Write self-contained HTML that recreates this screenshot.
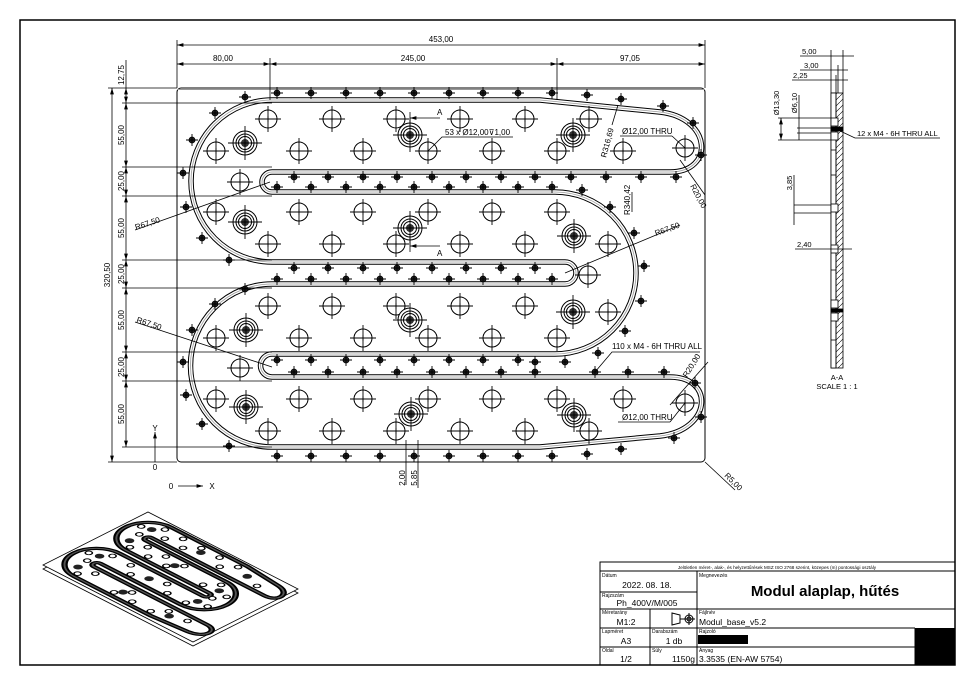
<!DOCTYPE html>
<html><head><meta charset="utf-8"><style>
html,body{margin:0;padding:0;background:#fff}
svg{display:block}
text{font-family:"Liberation Sans",sans-serif;fill:#000}
</style></head><body>
<svg width="975" height="686" viewBox="0 0 975 686" xmlns="http://www.w3.org/2000/svg">
<defs>
<symbol id="h" overflow="visible"><circle r="9" fill="#fff" stroke="#000" stroke-width="1"/><path d="M-13 0H13M0-13V13" stroke="#000" stroke-width="0.9"/><path d="M-3 0H3M0-3V3" stroke="#000" stroke-width="0.8"/></symbol>
<symbol id="cb" overflow="visible"><circle r="12" fill="#fff" stroke="#000" stroke-width="1"/><circle r="9" fill="none" stroke="#000" stroke-width="1"/><circle r="6.5" fill="none" stroke="#000" stroke-width="1"/><circle r="4" fill="#333"/><path d="M-17 0H17M0-17V17" stroke="#000" stroke-width="0.9"/></symbol>
<symbol id="m" overflow="visible"><circle r="3" fill="#222" stroke="#000" stroke-width="0.8"/><path d="M-6 0H6M0-6V6" stroke="#000" stroke-width="0.9"/></symbol>
<path id="gp" d="M272,100 L540,100 L660,112 C712,118 715,172 670,172 L272,172 A10 10 0 0 0 272,192 L555,192 A81 81 0 0 1 555,354 L272,354 A11.5 11.5 0 0 0 272,377 L670,377 C715,377 712,430 660,436 L540,447 L272,447 A81.5 81.5 0 0 1 272,284 L565,284 A11 11 0 0 0 565,262 L272,262 A81 81 0 0 1 272,100 Z"/>
<marker id="ar" viewBox="0 0 10 6" refX="10" refY="3" markerWidth="8" markerHeight="5" orient="auto-start-reverse"><path d="M0 0L10 3L0 6Z" fill="#000"/></marker>
<pattern id="hatch" width="6" height="6" patternUnits="userSpaceOnUse"><path d="M0 6L6 0" stroke="#000" stroke-width="0.6"/></pattern>
</defs>

<rect x="20" y="20" width="935" height="645" fill="none" stroke="#000" stroke-width="1.5"/>

<rect x="177" y="88" width="528" height="374" rx="4" fill="#fff" stroke="#000" stroke-width="1"/>
<line x1="177" y1="89.5" x2="705" y2="89.5" stroke="#999" stroke-width="1"/>

<use href="#gp" fill="none" stroke="#000" stroke-width="5.5"/>
<use href="#gp" fill="none" stroke="#fff" stroke-width="3.5"/>
<use href="#gp" fill="none" stroke="#999" stroke-width="0.8"/>

<g>
<use href="#h" x="268" y="119"/><use href="#h" x="332" y="119"/><use href="#h" x="396" y="119"/><use href="#h" x="460" y="119"/><use href="#h" x="525" y="119"/><use href="#h" x="589" y="119"/>
<use href="#h" x="216" y="151"/><use href="#h" x="299" y="151"/><use href="#h" x="363" y="151"/><use href="#h" x="428" y="151"/><use href="#h" x="492" y="151"/><use href="#h" x="557" y="151"/><use href="#h" x="623" y="151"/>
<use href="#h" x="240" y="182"/>
<use href="#h" x="216" y="212"/><use href="#h" x="299" y="212"/><use href="#h" x="363" y="212"/><use href="#h" x="428" y="212"/><use href="#h" x="492" y="212"/><use href="#h" x="557" y="212"/>
<use href="#h" x="268" y="244"/><use href="#h" x="332" y="244"/><use href="#h" x="396" y="244"/><use href="#h" x="460" y="244"/><use href="#h" x="525" y="244"/><use href="#h" x="608" y="244"/>
<use href="#h" x="588" y="275"/>
<use href="#h" x="268" y="306"/><use href="#h" x="332" y="306"/><use href="#h" x="396" y="306"/><use href="#h" x="460" y="306"/><use href="#h" x="525" y="306"/><use href="#h" x="608" y="312"/>
<use href="#h" x="216" y="338"/><use href="#h" x="299" y="338"/><use href="#h" x="363" y="338"/><use href="#h" x="428" y="338"/><use href="#h" x="492" y="338"/><use href="#h" x="557" y="338"/>
<use href="#h" x="240" y="368"/>
<use href="#h" x="216" y="399"/><use href="#h" x="299" y="399"/><use href="#h" x="363" y="399"/><use href="#h" x="428" y="399"/><use href="#h" x="492" y="399"/><use href="#h" x="557" y="399"/><use href="#h" x="623" y="399"/>
<use href="#h" x="268" y="431"/><use href="#h" x="332" y="431"/><use href="#h" x="396" y="431"/><use href="#h" x="460" y="431"/><use href="#h" x="525" y="431"/><use href="#h" x="589" y="431"/>
<use href="#cb" x="245" y="143"/><use href="#cb" x="410" y="135"/><use href="#cb" x="573" y="135"/>
<use href="#cb" x="245" y="222"/><use href="#cb" x="410" y="228"/><use href="#cb" x="574" y="236"/>
<use href="#cb" x="246" y="330"/><use href="#cb" x="410" y="320"/><use href="#cb" x="573" y="312"/>
<use href="#cb" x="246" y="407"/><use href="#cb" x="411" y="414"/><use href="#cb" x="574" y="415"/>
<use href="#h" x="685" y="148"/><use href="#h" x="685" y="403"/>
</g>

<g>
<use href="#m" x="277" y="93"/><use href="#m" x="311" y="93"/><use href="#m" x="346" y="93"/><use href="#m" x="380" y="93"/><use href="#m" x="414" y="93"/><use href="#m" x="449" y="93"/><use href="#m" x="483" y="93"/><use href="#m" x="518" y="93"/><use href="#m" x="552" y="93"/><use href="#m" x="587" y="95"/><use href="#m" x="621" y="99"/><use href="#m" x="663" y="106"/>
<use href="#m" x="294" y="177"/><use href="#m" x="328" y="177"/><use href="#m" x="363" y="177"/><use href="#m" x="397" y="177"/><use href="#m" x="432" y="177"/><use href="#m" x="466" y="177"/><use href="#m" x="501" y="177"/><use href="#m" x="535" y="177"/><use href="#m" x="571" y="177"/><use href="#m" x="606" y="177"/><use href="#m" x="641" y="177"/><use href="#m" x="676" y="177"/>
<use href="#m" x="277" y="187"/><use href="#m" x="311" y="187"/><use href="#m" x="346" y="187"/><use href="#m" x="380" y="187"/><use href="#m" x="414" y="187"/><use href="#m" x="449" y="187"/><use href="#m" x="483" y="187"/><use href="#m" x="518" y="187"/><use href="#m" x="552" y="187"/>
<use href="#m" x="294" y="268"/><use href="#m" x="328" y="268"/><use href="#m" x="363" y="268"/><use href="#m" x="397" y="268"/><use href="#m" x="432" y="268"/><use href="#m" x="466" y="268"/><use href="#m" x="501" y="268"/><use href="#m" x="535" y="268"/>
<use href="#m" x="277" y="279"/><use href="#m" x="311" y="279"/><use href="#m" x="346" y="279"/><use href="#m" x="380" y="279"/><use href="#m" x="414" y="279"/><use href="#m" x="449" y="279"/><use href="#m" x="483" y="279"/><use href="#m" x="518" y="279"/><use href="#m" x="552" y="279"/>
<use href="#m" x="277" y="360"/><use href="#m" x="311" y="360"/><use href="#m" x="346" y="360"/><use href="#m" x="380" y="360"/><use href="#m" x="414" y="360"/><use href="#m" x="449" y="360"/><use href="#m" x="483" y="360"/><use href="#m" x="518" y="360"/><use href="#m" x="535" y="362"/><use href="#m" x="565" y="362"/>
<use href="#m" x="294" y="372"/><use href="#m" x="328" y="372"/><use href="#m" x="363" y="372"/><use href="#m" x="397" y="372"/><use href="#m" x="432" y="372"/><use href="#m" x="466" y="372"/><use href="#m" x="501" y="372"/><use href="#m" x="535" y="372"/><use href="#m" x="595" y="372"/><use href="#m" x="628" y="372"/><use href="#m" x="664" y="372"/>
<use href="#m" x="277" y="456"/><use href="#m" x="311" y="456"/><use href="#m" x="346" y="456"/><use href="#m" x="380" y="456"/><use href="#m" x="414" y="456"/><use href="#m" x="449" y="456"/><use href="#m" x="483" y="456"/><use href="#m" x="518" y="456"/><use href="#m" x="552" y="456"/><use href="#m" x="587" y="454"/><use href="#m" x="621" y="449"/><use href="#m" x="674" y="438"/>
<use href="#m" x="245" y="97"/><use href="#m" x="215" y="113"/><use href="#m" x="192" y="140"/><use href="#m" x="183" y="173"/><use href="#m" x="186" y="207"/><use href="#m" x="202" y="238"/><use href="#m" x="229" y="260"/>
<use href="#m" x="245" y="289"/><use href="#m" x="215" y="304"/><use href="#m" x="192" y="330"/><use href="#m" x="183" y="362"/><use href="#m" x="186" y="395"/><use href="#m" x="202" y="424"/><use href="#m" x="229" y="446"/>
<use href="#m" x="582" y="190"/><use href="#m" x="610" y="207"/><use href="#m" x="634" y="233"/><use href="#m" x="644" y="266"/><use href="#m" x="641" y="301"/><use href="#m" x="625" y="331"/><use href="#m" x="598" y="353"/>
<use href="#m" x="693" y="123"/><use href="#m" x="701" y="155"/><use href="#m" x="695" y="383"/><use href="#m" x="701" y="417"/>
</g>

<g stroke="#000" stroke-width="0.8" fill="none">
<line x1="177" y1="40" x2="177" y2="88"/><line x1="705" y1="40" x2="705" y2="88"/>
<line x1="177" y1="45" x2="705" y2="45" marker-start="url(#ar)" marker-end="url(#ar)"/>
<line x1="270" y1="58" x2="270" y2="100"/><line x1="557" y1="58" x2="557" y2="100"/>
<line x1="177" y1="64" x2="270" y2="64" marker-start="url(#ar)" marker-end="url(#ar)"/>
<line x1="270" y1="64" x2="557" y2="64" marker-start="url(#ar)" marker-end="url(#ar)"/>
<line x1="557" y1="64" x2="705" y2="64" marker-start="url(#ar)" marker-end="url(#ar)"/>
<line x1="108" y1="88" x2="177" y2="88"/><line x1="108" y1="462" x2="177" y2="462"/>
<line x1="112" y1="88" x2="112" y2="462" marker-start="url(#ar)" marker-end="url(#ar)"/>
<line x1="122" y1="103" x2="272" y2="103"/>
<line x1="126" y1="60" x2="126" y2="88"/>
<line x1="126" y1="88" x2="126" y2="103" marker-start="url(#ar)" marker-end="url(#ar)"/>
<line x1="122" y1="167" x2="272" y2="167"/><line x1="122" y1="196" x2="272" y2="196"/>
<line x1="122" y1="260" x2="272" y2="260"/><line x1="122" y1="288" x2="272" y2="288"/>
<line x1="122" y1="352" x2="272" y2="352"/><line x1="122" y1="381" x2="272" y2="381"/>
<line x1="122" y1="447" x2="272" y2="447"/>
<line x1="126" y1="103" x2="126" y2="167" marker-start="url(#ar)" marker-end="url(#ar)"/>
<line x1="126" y1="167" x2="126" y2="196" marker-start="url(#ar)" marker-end="url(#ar)"/>
<line x1="126" y1="196" x2="126" y2="260" marker-start="url(#ar)" marker-end="url(#ar)"/>
<line x1="126" y1="260" x2="126" y2="288" marker-start="url(#ar)" marker-end="url(#ar)"/>
<line x1="126" y1="288" x2="126" y2="352" marker-start="url(#ar)" marker-end="url(#ar)"/>
<line x1="126" y1="352" x2="126" y2="381" marker-start="url(#ar)" marker-end="url(#ar)"/>
<line x1="126" y1="381" x2="126" y2="447" marker-start="url(#ar)" marker-end="url(#ar)"/>
<line x1="406" y1="440" x2="406" y2="485"/><line x1="418" y1="440" x2="418" y2="488"/>
<line x1="155" y1="462" x2="155" y2="432" marker-end="url(#ar)"/>
<line x1="178" y1="486" x2="203" y2="486" marker-end="url(#ar)"/>
<line x1="410" y1="112" x2="410" y2="128"/><line x1="410" y1="236" x2="410" y2="252"/>
<line x1="440" y1="118" x2="410" y2="118" marker-end="url(#ar)"/>
<line x1="440" y1="246" x2="410" y2="246" marker-end="url(#ar)"/>
<path d="M428 151 L442 137 L513 137"/>
<path d="M672 136 L620 136"/><path d="M685 148 L672 136"/>
<path d="M612 125 L618 105"/>
<path d="M632 212 L632 192"/>
<path d="M680 160 L705 195"/>
<path d="M135 230 L270 182"/>
<path d="M680 225 L565 273"/>
<path d="M135 322 L272 367"/>
<path d="M700 352 L612 352 L595 372"/>
<path d="M708 362 L670 405"/>
<path d="M670 422 L618 422"/><path d="M670 422 L685 403"/>
<path d="M705 462 L735 490"/>
</g>
<g font-size="8">
<text x="441" y="42" text-anchor="middle">453,00</text>
<text x="223" y="61" text-anchor="middle">80,00</text>
<text x="413" y="61" text-anchor="middle">245,00</text>
<text x="630" y="61" text-anchor="middle">97,05</text>
<text transform="translate(124,75) rotate(-90)" text-anchor="middle">12,75</text>
<text transform="translate(110,275) rotate(-90)" text-anchor="middle">320,50</text>
<text transform="translate(124,135) rotate(-90)" text-anchor="middle">55,00</text>
<text transform="translate(124,181) rotate(-90)" text-anchor="middle">25,00</text>
<text transform="translate(124,228) rotate(-90)" text-anchor="middle">55,00</text>
<text transform="translate(124,274) rotate(-90)" text-anchor="middle">25,00</text>
<text transform="translate(124,320) rotate(-90)" text-anchor="middle">55,00</text>
<text transform="translate(124,367) rotate(-90)" text-anchor="middle">25,00</text>
<text transform="translate(124,414) rotate(-90)" text-anchor="middle">55,00</text>
<text transform="translate(405,478) rotate(-90)" text-anchor="middle">2,00</text>
<text transform="translate(417,478) rotate(-90)" text-anchor="middle">5,85</text>
<text x="155" y="431" text-anchor="middle">Y</text>
<text x="155" y="470" text-anchor="middle">0</text>
<text x="171" y="489" text-anchor="middle">0</text>
<text x="212" y="489" text-anchor="middle">X</text>
<text x="437" y="115">A</text><text x="437" y="256">A</text>
<text x="445" y="135">53 x Ø12,00⊽1,00</text>
<text x="622" y="134">Ø12,00 THRU</text>
<text transform="translate(606,158) rotate(-75)">R316,69</text>
<text transform="translate(630,215) rotate(-90)">R340,42</text>
<text transform="translate(690,186) rotate(62)">R20,00</text>
<text transform="translate(136,230) rotate(-18)">R67,50</text>
<text transform="translate(656,236) rotate(-20)">R67,50</text>
<text transform="translate(136,322) rotate(18)">R67,50</text>
<text x="612" y="349">110 x M4 - 6H THRU ALL</text>
<text transform="translate(687,378) rotate(-58)">R20,00</text>
<text x="622" y="420">Ø12,00 THRU</text>
<text transform="translate(724,476) rotate(45)">R5,00</text>
</g>

<g stroke="#000" stroke-width="0.8" fill="none">
<rect x="831" y="93" width="12" height="275" fill="url(#hatch)"/>
<rect x="831" y="93" width="5" height="275" fill="#fff"/>
<line x1="836" y1="93" x2="836" y2="368"/>
<rect x="831" y="118" width="7" height="8" fill="#fff"/>
<rect x="831" y="127" width="12" height="4" fill="#000"/>
<rect x="831" y="132" width="7" height="8" fill="#fff"/>
<rect x="831" y="204" width="7" height="8" fill="#fff"/>
<rect x="831" y="245" width="7" height="8" fill="#fff"/>
<rect x="831" y="300" width="7" height="8" fill="#fff"/>
<rect x="831" y="309" width="12" height="3" fill="#000"/>
<rect x="831" y="313" width="7" height="8" fill="#fff"/>
<line x1="831" y1="150" x2="836" y2="150"/><line x1="831" y1="175" x2="836" y2="175"/><line x1="831" y1="270" x2="836" y2="270"/><line x1="831" y1="340" x2="836" y2="340"/>
<line x1="831" y1="50" x2="831" y2="93"/><line x1="843" y1="50" x2="843" y2="93"/><line x1="838" y1="65" x2="838" y2="93"/><line x1="836" y1="75" x2="836" y2="93"/>
<line x1="800" y1="56" x2="854" y2="56"/><line x1="800" y1="70" x2="848" y2="70"/><line x1="792" y1="80" x2="848" y2="80"/>
<line x1="778" y1="118" x2="831" y2="118"/><line x1="778" y1="140" x2="831" y2="140"/>
<line x1="781" y1="118" x2="781" y2="140" marker-start="url(#ar)" marker-end="url(#ar)"/>
<line x1="797" y1="128" x2="831" y2="128"/><line x1="797" y1="133" x2="831" y2="133"/>
<line x1="799" y1="95" x2="799" y2="140"/>
<line x1="794" y1="205" x2="831" y2="205"/><line x1="794" y1="213" x2="831" y2="213"/>
<line x1="794" y1="175" x2="794" y2="225"/>
<line x1="795" y1="249" x2="852" y2="249"/>
<path d="M838 130 L855 138 L940 138"/>
</g>
<g font-size="7.5">
<text x="802" y="54">5,00</text>
<text x="804" y="68">3,00</text>
<text x="793" y="78">2,25</text>
<text transform="translate(779,103) rotate(-90)" text-anchor="middle">Ø13,30</text>
<text transform="translate(797,103) rotate(-90)" text-anchor="middle">Ø6,10</text>
<text transform="translate(792,183) rotate(-90)" text-anchor="middle">3,85</text>
<text x="797" y="247">2,40</text>
<text x="857" y="136">12 x M4 - 6H THRU ALL</text>
<text x="837" y="380" text-anchor="middle">A-A</text>
<text x="837" y="389" text-anchor="middle">SCALE 1 : 1</text>
</g>

<polygon points="43,569 193,646 298,593 148,516" fill="#fff" stroke="#000" stroke-width="0.8"/>
<polygon points="43,565 193,642 298,589 148,512" fill="#fff" stroke="#000" stroke-width="0.8"/>
<g transform="matrix(0.2846 0.1461 -0.28 0.1413 121.98 473.58)">
<use href="#gp" fill="none" stroke="#000" stroke-width="16"/>
<use href="#gp" fill="none" stroke="#555" stroke-width="5"/>
<g fill="#fff" stroke="#000" stroke-width="4">
<circle cx="268" cy="119" r="9"/><circle cx="332" cy="119" r="9"/><circle cx="396" cy="119" r="9"/><circle cx="460" cy="119" r="9"/><circle cx="525" cy="119" r="9"/>
<circle cx="216" cy="151" r="9"/><circle cx="299" cy="151" r="9"/><circle cx="363" cy="151" r="9"/><circle cx="492" cy="151" r="9"/><circle cx="623" cy="151" r="9"/>
<circle cx="240" cy="182" r="9"/>
<circle cx="299" cy="212" r="9"/><circle cx="363" cy="212" r="9"/><circle cx="428" cy="212" r="9"/><circle cx="557" cy="212" r="9"/>
<circle cx="268" cy="244" r="9"/><circle cx="332" cy="244" r="9"/><circle cx="396" cy="244" r="9"/><circle cx="525" cy="244" r="9"/><circle cx="608" cy="244" r="9"/>
<circle cx="588" cy="275" r="9"/>
<circle cx="268" cy="306" r="9"/><circle cx="332" cy="306" r="9"/><circle cx="460" cy="306" r="9"/><circle cx="608" cy="312" r="9"/>
<circle cx="216" cy="338" r="9"/><circle cx="363" cy="338" r="9"/><circle cx="492" cy="338" r="9"/><circle cx="557" cy="338" r="9"/>
<circle cx="240" cy="368" r="9"/>
<circle cx="299" cy="399" r="9"/><circle cx="428" cy="399" r="9"/><circle cx="557" cy="399" r="9"/><circle cx="623" cy="399" r="9"/>
<circle cx="268" cy="431" r="9"/><circle cx="396" cy="431" r="9"/><circle cx="460" cy="431" r="9"/><circle cx="525" cy="431" r="9"/>
</g>
<g fill="#222">
<circle cx="245" cy="143" r="12"/><circle cx="410" cy="135" r="12"/><circle cx="573" cy="135" r="12"/>
<circle cx="245" cy="222" r="12"/><circle cx="410" cy="228" r="12"/><circle cx="574" cy="236" r="12"/>
<circle cx="246" cy="330" r="12"/><circle cx="410" cy="320" r="12"/><circle cx="573" cy="312" r="12"/>
<circle cx="246" cy="407" r="12"/><circle cx="411" cy="414" r="12"/><circle cx="574" cy="415" r="12"/>
</g>
</g>

<g stroke="#000" stroke-width="1" fill="none">
<rect x="600" y="562" width="355" height="103"/>
<line x1="600" y1="571" x2="955" y2="571"/>
<line x1="600" y1="592" x2="697" y2="592"/>
<line x1="600" y1="609" x2="955" y2="609"/>
<line x1="600" y1="628" x2="915" y2="628"/>
<line x1="600" y1="647" x2="915" y2="647"/>
<line x1="697" y1="571" x2="697" y2="665"/>
<line x1="650" y1="609" x2="650" y2="665"/>
<line x1="915" y1="628" x2="915" y2="665"/>
<path d="M672 613 L680 615 L680 623 L672 625 Z M680 619 L684 619"/>
<circle cx="689" cy="619" r="4"/><circle cx="689" cy="619" r="2"/><path d="M683 619 H695 M689 613 V625"/>
</g>
<rect x="915" y="628" width="40" height="37" fill="#000"/>
<rect x="698" y="635" width="50" height="9" fill="#000"/>
<g font-size="5">
<text x="777" y="569" text-anchor="middle" font-size="4.6">Jelöletlen méret-, alak-, és helyzettűrések MSZ ISO 2768 szerint, közepes (m) pontossági osztály</text>
<text x="602" y="577">Dátum</text><text x="699" y="577">Megnevezés</text>
<text x="602" y="597">Rajzszám</text>
<text x="602" y="614">Méretarány</text><text x="699" y="614">Fájlnév</text>
<text x="602" y="633">Lapméret</text><text x="652" y="633">Darabszám</text><text x="699" y="633">Rajzoló</text>
<text x="602" y="652">Oldal</text><text x="652" y="652">Súly</text><text x="699" y="652">Anyag</text>
</g>
<g font-size="8.5">
<text x="647" y="588" text-anchor="middle">2022. 08. 18.</text>
<text x="647" y="606" text-anchor="middle">Ph_400V/M/005</text>
<text x="626" y="625" text-anchor="middle">M1:2</text>
<text x="699" y="625">Modul_base_v5.2</text>
<text x="626" y="644" text-anchor="middle">A3</text>
<text x="674" y="644" text-anchor="middle">1 db</text>
<text x="626" y="662" text-anchor="middle">1/2</text>
<text x="695" y="662" text-anchor="end">1150g</text>
<text x="699" y="662">3.3535 (EN-AW 5754)</text>
</g>
<text x="825" y="596" text-anchor="middle" font-size="15" font-weight="bold">Modul alaplap, hűtés</text>
</svg>
</body></html>
